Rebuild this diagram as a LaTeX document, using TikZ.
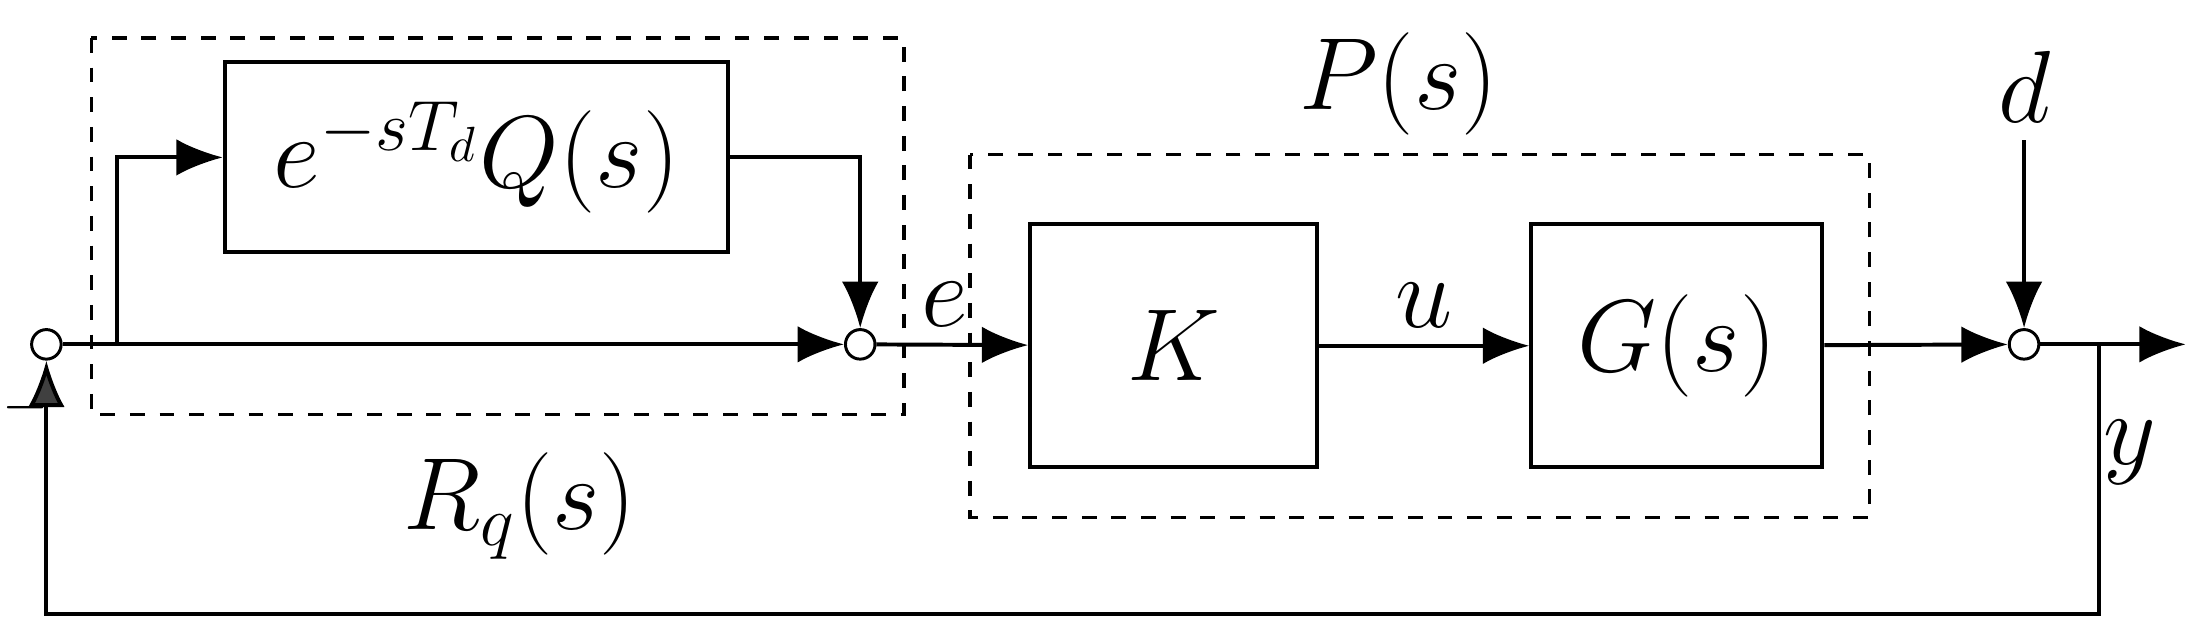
\documentclass[tikz,border=0pt]{standalone}
\usepackage{fontspec}
\setmainfont{Liberation Serif}
\usetikzlibrary{arrows.meta}
\tikzset{
    blk/.style={draw, line width=0.8pt, inner sep=0pt},
    sumc/.style={draw, circle, minimum size=0.21cm, inner sep=0pt, line width=0.6pt},
    grp/.style={draw, dashed, line width=0.7pt},
    lbl/.style={font=\fontsize{20}{23}\selectfont\itshape},
    sig/.style={line width=0.8pt, -{Latex[length=3.3mm,width=2.6mm]}},
}
\begin{document}
\begin{tikzpicture}[x=0.01cm, y=-0.01cm, yshift=4.52cm]
    \useasboundingbox (0, 0) rectangle (1568, 452);

    % groups
    \draw [grp] (65, 27) rectangle (643, 295);
    \draw [grp] (690, 110) rectangle (1330, 368);
    \node [lbl] (Plbl) at (995, 60) {$P\Big(s\Big)$};
    \node [lbl] (Rlbl) at (370, 360) {$R_q\Big(s\Big)$};

    % blocks
    \node [blk, minimum width=3.58cm, minimum height=1.35cm] (Q) at (339, 112) {};
    \node [lbl] at (Q) {$e^{-sT_d}Q\Big(s\Big)$};
    \node [blk, minimum width=2.04cm, minimum height=1.73cm] (K) at (835, 246) {};
    \node [lbl] at (K) {$K$};
    \node [blk, minimum width=2.07cm, minimum height=1.73cm] (G) at (1193, 246) {};
    \node [lbl] at (G) {$G\Big(s\Big)$};

    % summing points
    \node [sumc] (s1) at (33, 245) {};
    \node [sumc] (s2) at (612, 245) {};
    \node [sumc] (s3) at (1440, 245) {};

    \coordinate (br1) at (83, 245);
    \coordinate (br2) at (1493, 245);
    \coordinate (yend) at (1555, 245);
    \node [lbl] (d) at (1440, 62) {$d$};

    % signals
    \draw [sig] (s1) -- (s2);
    \draw [sig] (br1) |- (Q.west);
    \draw [sig] (Q.east) -| (s2.north);
    \draw [sig] (s2) -- (K) node [lbl, pos=0.45, above] {$e$};
    \draw [sig] (K) -- (G) node [lbl, pos=0.5, above] {$u$};
    \draw [sig] (G) -- (s3);
    \draw [sig] (d.south) -- (s3.north);
    \draw [sig] (s3) -- (yend);
    \draw [sig, -{Latex[length=3.3mm,width=2.6mm,fill=black!75]}] (br2) -- ++(0, 192) -| (s1.south);
    \node [lbl] at (1515, 322) {$y$};
    \node [font=\fontsize{12}{14}\selectfont] at (18, 290) {$-$};
\end{tikzpicture}
\end{document}
